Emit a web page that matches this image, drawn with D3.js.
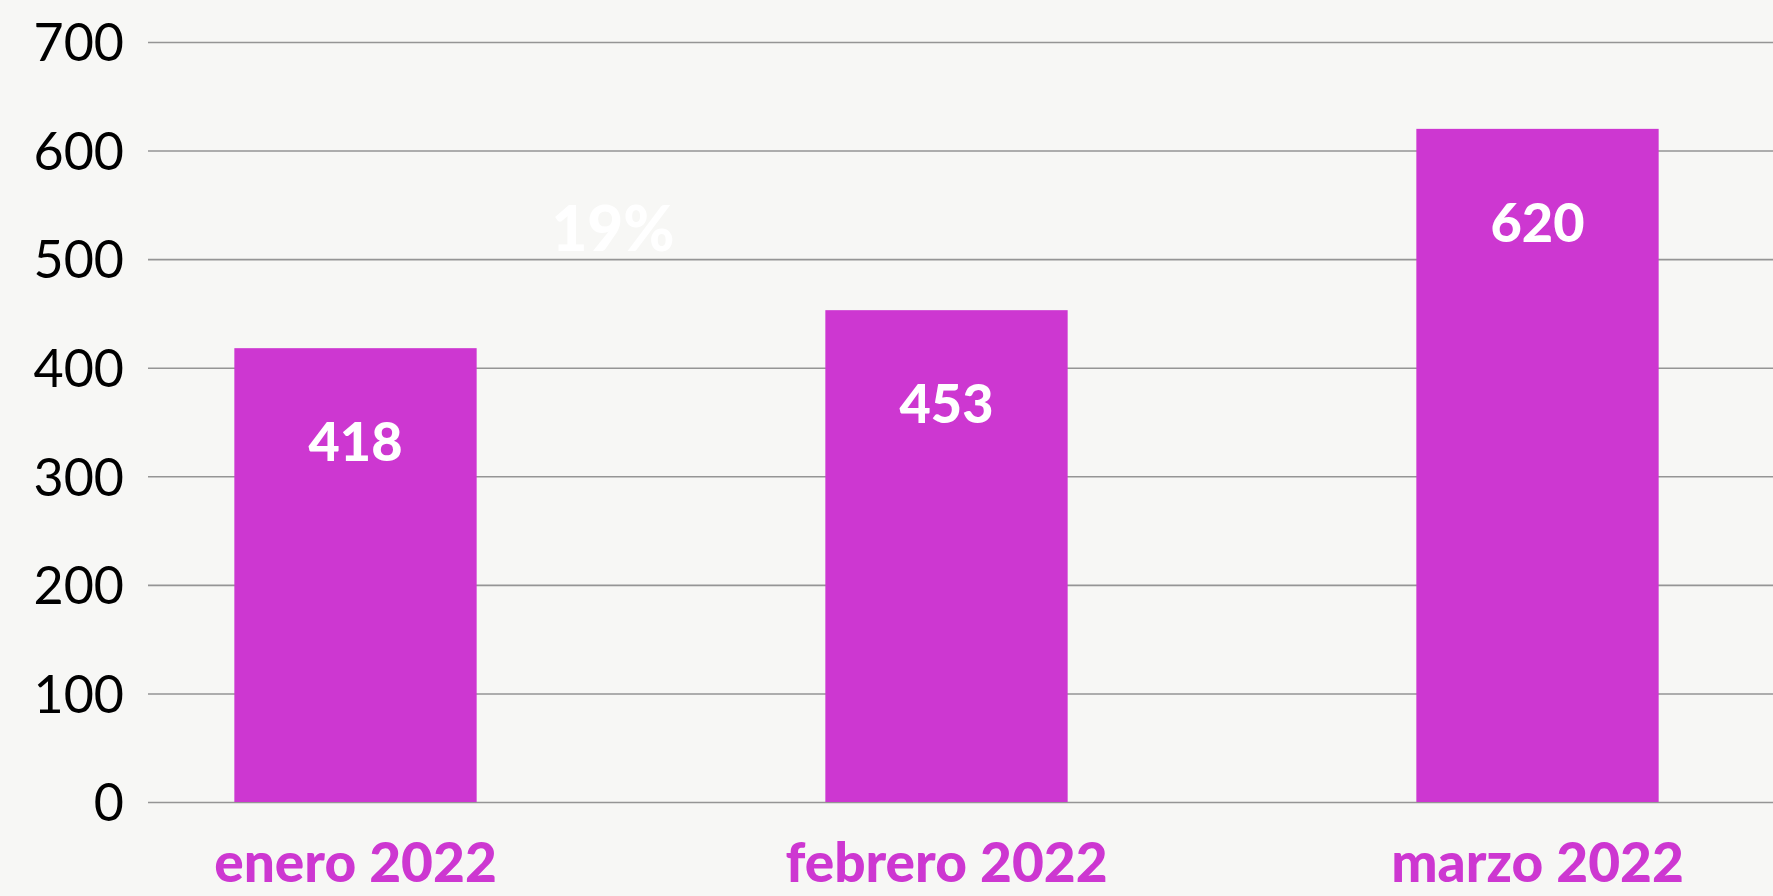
<!DOCTYPE html>
<html>
<head>
<meta charset="utf-8">
<script src="https://cdn.jsdelivr.net/npm/d3@7"></script>
<style>
  html, body { margin: 0; padding: 0; background: #f7f7f5; overflow: hidden; }
  svg { display: block; }
</style>
</head>
<body>
<script>
// data
const months = ['enero 2022', 'febrero 2022', 'marzo 2022'];
const sales = [418, 453, 620];
const yTicks = [0, 100, 200, 300, 400, 500, 600, 700];
const note = '19%';

const width = 1773, height = 896;
const margin = {top: 42, bottom: 94, left: 148, right: 0};
const magenta = '#cd37d1';

const svg = d3.select('body').append('svg')
    .attr('width', width)
    .attr('height', height)
    .style('background', '#f7f7f5');

const y = d3.scaleLinear()
    .domain([0, 700])
    .range([height - margin.bottom, margin.top]);

// bands are laid out wider than the window so the bars land where they are in the picture
const x = d3.scaleBand()
    .domain(months)
    .range([60, 1833])
    .paddingInner(0.59)
    .paddingOuter(0.295);

// gridlines + tick labels
const yAxis = svg.append('g')
    .attr('transform', `translate(${margin.left},0)`)
    .call(d3.axisLeft(y).tickValues(yTicks).tickSize(-(width - margin.left)).tickPadding(24))
yAxis.select('.domain').remove()
yAxis.selectAll('.tick line')
    .attr('stroke', '#959595')
    .attr('stroke-width', 1.6)
yAxis.selectAll('.tick text')
    .attr('fill', '#000')
    .attr('dy', '0.36em')
    .style('font-family', 'Lato, sans-serif')
    .style('font-size', '52px')

// bars
svg.append('g')
  .selectAll('rect')
  .data(sales)
  .join('rect')
    .attr('x', (d, i) => x(months[i]))
    .attr('y', d => y(d))
    .attr('width', x.bandwidth())
    .attr('height', d => y(0) - y(d))
    .attr('fill', magenta)

// values inside the bars
svg.append('g')
  .selectAll('text')
  .data(sales)
  .join('text')
    .attr('x', (d, i) => x(months[i]) + x.bandwidth() / 2)
    .attr('y', d => y(d) + 113)
    .attr('text-anchor', 'middle')
    .attr('fill', '#fff')
    .style('font-family', 'Lato, sans-serif')
    .style('font-weight', 900)
    .style('font-size', '54px')
    .text(d => d)

// month labels (kept just clear of the bottom edge)
const xAxis = svg.append('g')
    .attr('transform', `translate(0,${y(0)})`)
    .call(d3.axisBottom(x).tickSize(0))
xAxis.select('.domain').remove()
xAxis.selectAll('.tick text')
    .attr('dy', null)
    .attr('y', 80)
    .attr('fill', magenta)
    .style('font-family', 'Lato, sans-serif')
    .style('font-weight', 900)
    .style('font-size', '55px')

// faint white annotation between the first two bars
svg.append('text')
    .attr('x', (x(months[0]) + x.bandwidth() + x(months[1])) / 2 - 38)
    .attr('y', y(500) - 8)
    .attr('text-anchor', 'middle')
    .attr('fill', '#fff')
    .style('font-family', 'Lato, sans-serif')
    .style('font-weight', 900)
    .style('font-size', '62px')
    .text(note)
</script>
</body>
</html>
